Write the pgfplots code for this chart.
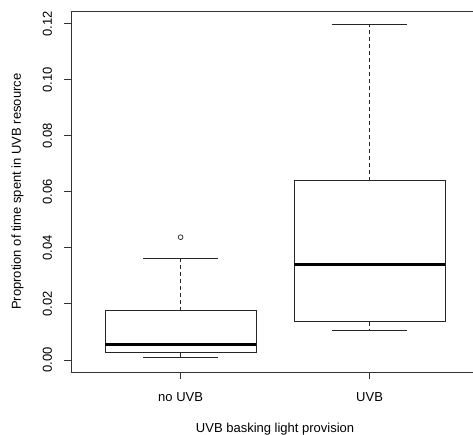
\documentclass[border=0pt]{standalone}
\usepackage{fontspec}
\setmainfont{Liberation Sans}
\usepackage{pgfplots}
\pgfplotsset{compat=1.18}
\newcommand{\rfont}{\fontsize{13bp}{15.6bp}\selectfont}
\begin{document}
\begin{tikzpicture}
\useasboundingbox (0,0) rectangle (473bp,435bp);
\begin{axis}[
  at={(71bp,62.7bp)}, anchor=south west,
  scale only axis, width=408.2bp, height=361.3bp,
  xmin=0.42, xmax=2.58, ymin=-0.0044, ymax=0.1245,
  xtick={1,2}, xticklabels={no UVB, UVB},
  ytick={0,0.02,0.04,0.06,0.08,0.10,0.12},
  scaled y ticks=false,
  /pgf/number format/assume math mode=true,
  yticklabel style={/pgf/number format/fixed, /pgf/number format/fixed zerofill, /pgf/number format/precision=2},
  tick align=outside, tick pos=left,
  major tick length=7bp,
  every tick/.style={black!80, line width=0.9bp},
  axis line style={black!80, line width=0.9bp},
  xticklabel style={font=\rfont, anchor=base, inner sep=0pt, yshift=-22bp},
  yticklabel style={font=\rfont, xshift=-12bp, rotate=90, anchor=base, inner sep=0pt},
  every axis x label/.style={at={(axis description cs:0.5,-0.1666)}, anchor=base, font=\rfont},
  every axis y label/.style={at={(axis description cs:-0.1225,0.5)}, rotate=90, anchor=base, font=\rfont},
  xlabel={UVB basking light provision},
  ylabel={Proprotion of time spent in UVB resource},
  boxline/.style={black!85, line width=0.9bp, no marks},
  whisk/.style={black!85, line width=0.9bp, no marks, dash pattern=on 4bp off 3bp},
  med/.style={black, line width=3bp, no marks},
]
% ---- no UVB (x = 1)
\addplot[boxline] coordinates {(0.6,0.0026) (1.4,0.0026) (1.4,0.0176) (0.6,0.0176)} -- cycle;
\addplot[med] coordinates {(0.6,0.0054) (1.4,0.0054)};
\addplot[whisk] coordinates {(1,0.0176) (1,0.0363)};
\addplot[whisk] coordinates {(1,0.0026) (1,0.0008)};
\addplot[boxline] coordinates {(0.8,0.0363) (1.2,0.0363)};
\addplot[boxline] coordinates {(0.8,0.0008) (1.2,0.0008)};
\addplot[only marks, mark=o, mark size=2.4bp, black!85, mark options={line width=0.7bp}] coordinates {(1,0.0438)};
% ---- UVB (x = 2)
\addplot[boxline] coordinates {(1.6,0.0137) (2.4,0.0137) (2.4,0.0640) (1.6,0.0640)} -- cycle;
\addplot[med] coordinates {(1.6,0.0339) (2.4,0.0339)};
\addplot[whisk] coordinates {(2,0.0640) (2,0.1198)};
\addplot[whisk] coordinates {(2,0.0137) (2,0.0107)};
\addplot[boxline] coordinates {(1.8,0.1198) (2.2,0.1198)};
\addplot[boxline] coordinates {(1.8,0.0107) (2.2,0.0107)};
\end{axis}
\end{tikzpicture}
\end{document}
